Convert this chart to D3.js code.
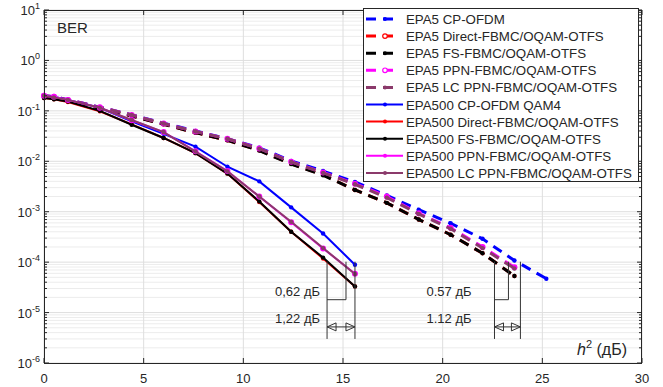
<!DOCTYPE html>
<html>
<head>
<meta charset="utf-8">
<script src="https://cdn.jsdelivr.net/npm/d3@7"></script>
<style>
  body { margin: 0; background: #fff; }
  text { font-family: "Liberation Sans", Arial, sans-serif; }
</style>
</head>
<body>
<div id="chart"></div>
<script>
// x values (SNR, dB)
const snr5 = [0, 0.5, 1.2, 2.8, 4.4, 6.0, 7.6, 9.2, 10.8, 12.4, 14.0, 15.6, 17.2, 18.8, 20.4, 22.0, 23.6, 25.2];
const snr500 = snr5.slice(0, 12);

// EPA5 (dashed)
const epa5Cp     = [0.2, 0.19, 0.165, 0.118, 0.083, 0.057, 0.04, 0.028, 0.0185, 0.0102, 0.0064, 0.0039, 0.0021, 0.0011, 0.00059, 0.00029, 0.000108, 0.000047];
const epa5Direct = [0.19, 0.18, 0.158, 0.112, 0.079, 0.054, 0.037, 0.026, 0.0165, 0.0089, 0.0054, 0.0027, 0.0015, 0.0007, 0.00035, 0.00015, 0.000053];
const epa5Fs     = [0.19, 0.18, 0.158, 0.112, 0.079, 0.054, 0.037, 0.026, 0.0163, 0.0088, 0.0053, 0.0027, 0.0015, 0.0007, 0.00035, 0.00015, 0.000053];
const epa5Ppn    = [0.2, 0.19, 0.165, 0.118, 0.083, 0.056, 0.039, 0.028, 0.018, 0.0098, 0.006, 0.0036, 0.002, 0.00093, 0.00048, 0.0002, 0.000079];
const epa5Lc     = [0.2, 0.19, 0.165, 0.118, 0.083, 0.056, 0.039, 0.028, 0.0178, 0.0097, 0.0059, 0.0035, 0.0019, 0.0009, 0.00046, 0.00019, 0.000075];

// EPA500 (solid)
const epa500Cp     = [0.2, 0.19, 0.165, 0.115, 0.062, 0.035, 0.0195, 0.0078, 0.004, 0.00122, 0.00037, 0.000089];
const epa500Direct = [0.18, 0.17, 0.15, 0.098, 0.054, 0.029, 0.0145, 0.0057, 0.00155, 0.0004, 0.000118, 0.000033];
const epa500Fs     = [0.18, 0.17, 0.153, 0.1, 0.053, 0.029, 0.0145, 0.0057, 0.0016, 0.0004, 0.000123, 0.000033];
const epa500Ppn    = [0.2, 0.19, 0.165, 0.115, 0.065, 0.038, 0.0158, 0.0064, 0.002, 0.00062, 0.000187, 0.000059];
const epa500Lc     = [0.2, 0.185, 0.165, 0.115, 0.066, 0.038, 0.0156, 0.0063, 0.002, 0.00063, 0.00019, 0.000058];

const seriesNames = [
  'EPA5 CP-OFDM', 'EPA5 Direct-FBMC/OQAM-OTFS', 'EPA5 FS-FBMC/OQAM-OTFS',
  'EPA5 PPN-FBMC/OQAM-OTFS', 'EPA5 LC PPN-FBMC/OQAM-OTFS',
  'EPA500 CP-OFDM QAM4', 'EPA500 Direct-FBMC/OQAM-OTFS', 'EPA500 FS-FBMC/OQAM-OTFS',
  'EPA500 PPN-FBMC/OQAM-OTFS', 'EPA500 LC PPN-FBMC/OQAM-OTFS'
];
const seriesValues = [epa5Cp, epa5Direct, epa5Fs, epa5Ppn, epa5Lc,
  epa500Cp, epa500Direct, epa500Fs, epa500Ppn, epa500Lc];
const seriesColors = ['#0000ff', '#ff0000', '#000000', '#ff00ff', '#8b3a6b',
  '#0000ff', '#ff0000', '#000000', '#ff00ff', '#8b3a6b'];
// legend marker: 'dot' filled, 'ring' open circle
const seriesMarkers = ['dot', 'ring', 'dot', 'ring', 'dot', 'dot', 'dot', 'dot', 'dot', 'dot'];

const xTicks = [0, 5, 10, 15, 20, 25, 30];
const yExps = [1, 0, -1, -2, -3, -4, -5, -6];

// annotation brackets: [xLeft, xMid, xRight], label texts
const gapXs = [[14.2, 15.15, 15.6], [22.6, 23.3, 23.9]];
const gapLabels = [['0,62 дБ', '1,22 дБ'], ['0.57 дБ', '1.12 дБ']];
const gapLabelX = [13.85, 21.45];

const W = 663, H = 387;
const m = { left: 44, right: 21, top: 10, bottom: 24 };

const svg = d3.select('#chart').append('svg')
  .attr('width', W)
  .attr('height', H);

const x = d3.scaleLinear([0, 30], [m.left, W - m.right]);
const y = d3.scaleLog([1e-6, 10], [H - m.bottom, m.top]);

const x0 = x(0), x1 = x(30), yTop = y(10), yBot = y(1e-6);

// grid
const grid = svg.append('g');
yExps.slice(1).forEach(e => {
  for (let k = 2; k <= 9; k++) {
    const v = k * Math.pow(10, e);
    grid.append('line')
      .attr('x1', x0).attr('x2', x1)
      .attr('y1', y(v)).attr('y2', y(v))
      .attr('stroke', '#ececec').attr('stroke-width', 1);
  }
});
yExps.forEach(e => {
  grid.append('line')
    .attr('x1', x0).attr('x2', x1)
    .attr('y1', y(Math.pow(10, e))).attr('y2', y(Math.pow(10, e)))
    .attr('stroke', '#dedede');
});
xTicks.forEach(t => {
  grid.append('line')
    .attr('x1', x(t)).attr('x2', x(t))
    .attr('y1', yTop).attr('y2', yBot)
    .attr('stroke', '#dedede');
});

// series
const line = d3.line().x(d => x(d[0])).y(d => y(d[1]));
seriesValues.forEach((vals, i) => {
  const xs = i < 5 ? snr5 : snr500;
  const pts = vals.map((v, j) => [xs[j], v]);
  const dashed = i < 5;
  svg.append('path')
    .datum(pts)
    .attr('d', line)
    .attr('fill', 'none')
    .attr('stroke', seriesColors[i])
    .attr('stroke-width', dashed ? 3 : 2)
    .attr('stroke-dasharray', dashed ? '10,7' : null);
  svg.append('g').selectAll('circle')
    .data(pts)
    .join('circle')
      .attr('cx', d => x(d[0]))
      .attr('cy', d => y(d[1]))
      .attr('r', i === 3 || i === 8 ? 3 : 2.2)
      .attr('fill', seriesColors[i]);
});

// axes box and ticks
const axis = svg.append('g').attr('stroke', '#262626').attr('stroke-width', 1);
axis.append('rect')
  .attr('x', x0 + 0.5).attr('y', yTop + 0.5)
  .attr('width', x1 - x0 - 1).attr('height', yBot - yTop)
  .attr('fill', 'none');
xTicks.forEach(t => {
  axis.append('line').attr('x1', x(t)).attr('x2', x(t)).attr('y1', yBot).attr('y2', yBot - 5);
  axis.append('line').attr('x1', x(t)).attr('x2', x(t)).attr('y1', yTop).attr('y2', yTop + 5);
});
yExps.forEach(e => {
  const yy = y(Math.pow(10, e));
  axis.append('line').attr('x1', x0).attr('x2', x0 + 5).attr('y1', yy).attr('y2', yy);
  axis.append('line').attr('x1', x1).attr('x2', x1 - 5).attr('y1', yy).attr('y2', yy);
  if (e > -6) {
    for (let k = 2; k <= 9; k++) {
      const ym = y(k * Math.pow(10, e - 1));
      axis.append('line').attr('x1', x0).attr('x2', x0 + 3).attr('y1', ym).attr('y2', ym);
      axis.append('line').attr('x1', x1).attr('x2', x1 - 3).attr('y1', ym).attr('y2', ym);
    }
  }
});

// tick labels
svg.append('g').selectAll('text')
  .data(xTicks)
  .join('text')
    .attr('x', d => x(d))
    .attr('y', H - 4)
    .attr('text-anchor', 'middle')
    .attr('font-size', 13)
    .attr('fill', '#262626')
    .text(d => d);

yExps.forEach(e => {
  const t = svg.append('text')
    .attr('x', x0 - 4)
    .attr('y', y(Math.pow(10, e)) + 5)
    .attr('text-anchor', 'end')
    .attr('font-size', 13)
    .attr('fill', '#262626');
  t.append('tspan').text('10');
  t.append('tspan').attr('dy', -6).attr('font-size', 9).text(e);
});

// BER and axis label
svg.append('text')
  .attr('x', x0 + 13).attr('y', yTop + 23)
  .attr('font-size', 15).attr('fill', '#262626')
  .text('BER');

const xl = svg.append('text')
  .attr('x', x1 - 65).attr('y', yBot - 8)
  .attr('font-size', 16).attr('fill', '#262626');
xl.append('tspan').attr('font-style', 'italic').text('h');
xl.append('tspan').attr('dy', -7).attr('font-size', 11).text('2');
xl.append('tspan').attr('dy', 7).text(' (дБ)');

// gap annotations
const yAnTop = 1.02e-4, yAnMid = 1.8e-5, yAnArrow = 5.2e-6, yAnBot = 3e-6;
gapXs.forEach((g, i) => {
  const a = svg.append('g').attr('stroke', '#333').attr('stroke-width', 1).attr('fill', 'none');
  a.append('line').attr('x1', x(g[0])).attr('x2', x(g[0])).attr('y1', y(yAnTop)).attr('y2', y(yAnBot));
  a.append('line').attr('x1', x(g[2])).attr('x2', x(g[2])).attr('y1', y(yAnTop)).attr('y2', y(yAnBot));
  a.append('line').attr('x1', x(g[1])).attr('x2', x(g[1])).attr('y1', y(yAnTop)).attr('y2', y(yAnMid));
  a.append('line').attr('x1', x(g[0])).attr('x2', x(g[1])).attr('y1', y(yAnMid)).attr('y2', y(yAnMid));
  const ya = y(yAnArrow), xa = x(g[0]), xb = x(g[2]);
  a.append('line').attr('x1', xa).attr('x2', xb).attr('y1', ya).attr('y2', ya);
  a.append('path').attr('d', `M${xa + 9},${ya - 4}L${xa},${ya}L${xa + 9},${ya + 4}Z`);
  a.append('path').attr('d', `M${xb - 9},${ya - 4}L${xb},${ya}L${xb - 9},${ya + 4}Z`);

  gapLabels[i].forEach((lab, j) => {
    svg.append('text')
      .attr('x', x(gapLabelX[i]))
      .attr('y', y(j === 0 ? 2.1e-5 : 6.2e-6))
      .attr('text-anchor', 'end')
      .attr('font-size', 13)
      .attr('fill', '#262626')
      .text(lab);
  });
});

// legend
const lg = svg.append('g');
lg.append('rect')
  .attr('x', 363.5).attr('y', 8.5)
  .attr('width', 275).attr('height', 173)
  .attr('fill', '#fff')
  .attr('stroke', '#262626');
seriesNames.forEach((name, i) => {
  const ly = 19 + i * 17.1;
  const dashed = i < 5;
  lg.append('line')
    .attr('x1', 366).attr('x2', dashed ? 394 : 403)
    .attr('y1', ly).attr('y2', ly)
    .attr('stroke', seriesColors[i])
    .attr('stroke-width', dashed ? 3 : 2)
    .attr('stroke-dasharray', dashed ? '10,7' : null);
  const ring = seriesMarkers[i] === 'ring';
  lg.append('circle')
    .attr('cx', 385).attr('cy', ly)
    .attr('r', ring ? 2.3 : 2)
    .attr('fill', ring ? '#fff' : seriesColors[i])
    .attr('stroke', ring ? seriesColors[i] : 'none')
    .attr('stroke-width', 1.2);
  lg.append('text')
    .attr('x', 406).attr('y', ly + 5)
    .attr('font-size', 13.3)
    .attr('fill', '#262626')
    .text(name);
});
</script>
</body>
</html>
